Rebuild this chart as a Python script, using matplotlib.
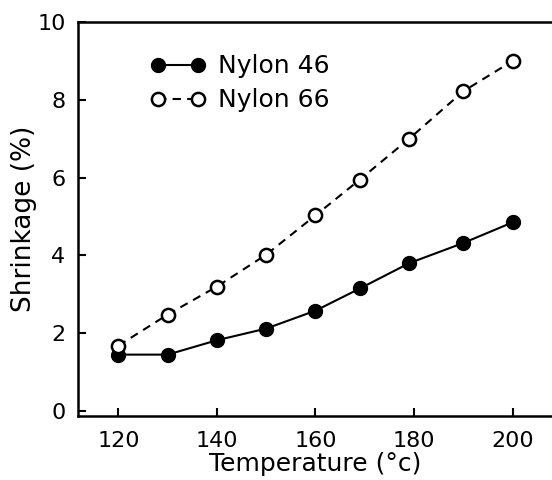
"""
Shrinkage of Nylon 46 and Nylon 66 versus temperature
"""

import matplotlib
matplotlib.use("Agg")
import matplotlib.pyplot as plt

# Data
temp = [120, 130, 140, 150, 160, 169, 179, 190, 200]
nylon46 = [1.45, 1.45, 1.82, 2.12, 2.58, 3.15, 3.80, 4.32, 4.85]
nylon66 = [1.68, 2.48, 3.20, 4.02, 5.03, 5.95, 7.00, 8.22, 9.00]

xticks = [120, 140, 160, 180, 200]
yticks = [0, 2, 4, 6, 8, 10]

plt.rcParams['font.family'] = ['DejaVu Sans']

fig = plt.figure(figsize=(5.52, 4.8), dpi=100)
ax = fig.add_axes([0.1413, 0.134, 0.8587, 0.82])

# Courbes
ax.plot(temp, nylon46, '-o', color='black', lw=1.5, ms=10,
        mfc='black', mec='black', label='Nylon 46')
ax.plot(temp, nylon66, '--o', color='black', lw=1.5, ms=9.5,
        mfc='white', mec='black', mew=1.8, dashes=(4, 3), label='Nylon 66')

# Repère
ax.set_xlim(111.8, 208)
ax.set_ylim(-0.12, 10)
ax.set_xticks(xticks)
ax.set_yticks(yticks)
ax.tick_params(direction='in', length=6, width=1.5, labelsize=16, pad=9)
ax.tick_params(axis='x', pad=11)
ax.spines['right'].set_visible(False)
for s in ('left', 'bottom', 'top'):
    ax.spines[s].set_linewidth(1.8)

ax.set_xlabel('Temperature (°c)', fontsize=18, labelpad=1)
ax.set_ylabel('Shrinkage (%)', fontsize=19, labelpad=0)

ax.legend(loc='upper left', bbox_to_anchor=(0.105, 0.975), frameon=False,
          fontsize=18, numpoints=2, handlelength=2.2, handletextpad=0.5,
          labelspacing=0.4)

fig.savefig('out.png', dpi=100)
